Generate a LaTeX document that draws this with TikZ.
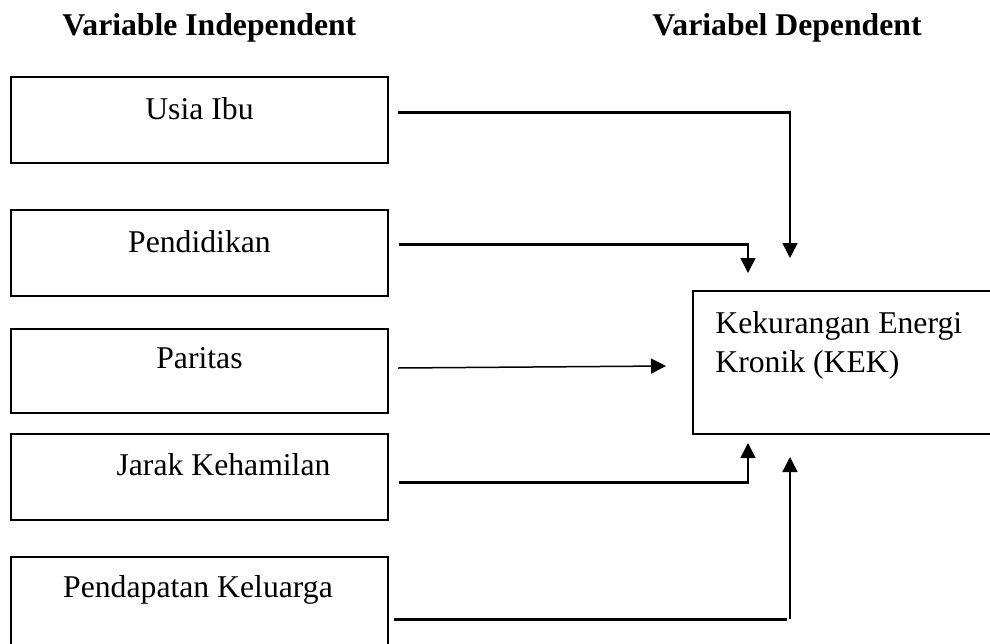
\documentclass[tikz,border=0pt]{standalone}
\usepackage{fontspec}
\setmainfont{Liberation Serif}
\usetikzlibrary{arrows.meta}
\begin{document}
\begin{tikzpicture}[x=0.5pt,y=-0.5pt,
  varbox/.style={draw,line width=1pt,rectangle,inner sep=0pt,outer sep=0pt,minimum width=188.5pt},
  lbl/.style={anchor=base,inner sep=0pt,font=\fontsize{15.85}{19}\selectfont},
  hdr/.style={anchor=base west,inner sep=0pt,font=\fontsize{15.85}{19}\selectfont\bfseries},
  thickln/.style={line width=1.5pt},
  thinarr/.style={line width=0.75pt,-{Triangle[width=7.5pt,length=7.5pt]}},
  thinln/.style={line width=0.75pt}]
\useasboundingbox (0,0) rectangle (990,643);
\clip (0,0) rectangle (990,643);
% headers
\node[hdr] (hIndep) at (62,35) {Variable Independent};
\node[hdr] (hDep) at (652,35) {Variabel Dependent};
% independent boxes
\node[varbox,minimum height=43pt] (b1) at (199.5,120) {};
\node[varbox,minimum height=43pt] (b2) at (199.5,253) {};
\node[varbox,minimum height=42pt] (b3) at (199.5,371) {};
\node[varbox,minimum height=43pt] (b4) at (199.5,477) {};
\node[varbox,minimum height=50pt] (b5) at (199.5,607) {};
\node[lbl] (t1) at (199.5,119) {Usia Ibu};
\node[lbl] (t2) at (199.5,252) {Pendidikan};
\node[lbl] (t3) at (199.5,368) {Paritas};
\node[lbl] (t4) at (223.5,475) {Jarak Kehamilan};
\node[lbl] (t5) at (198,597) {Pendapatan Keluarga};
% dependent box
\node[draw,line width=1pt,rectangle,inner sep=0pt,outer sep=0pt,minimum width=200pt,minimum height=71.5pt] (kek) at (893,362.5) {};
\node[lbl,anchor=base west] (tk1) at (715,333) {Kekurangan Energi};
\node[lbl,anchor=base west] (tk2) at (715,372) {Kronik (KEK)};
% connector points
\coordinate (s1) at (398,112); \coordinate (c1) at (790,112); \coordinate (e1) at (790,258);
\coordinate (s2) at (399,244); \coordinate (c2) at (748,244); \coordinate (e2) at (748,273);
\coordinate (s3) at (398,368); \coordinate (e3) at (666,366);
\coordinate (s4) at (399,482); \coordinate (c4) at (748,482); \coordinate (e4) at (748,443);
\coordinate (s5) at (394,619); \coordinate (c5) at (787,619); \coordinate (c5b) at (790,619); \coordinate (e5) at (790,457);
% connectors
\draw[thickln] (s1) -- (c1);
\draw[thinarr] ([yshift=0.75pt]c1) -- (e1);
\draw[thickln] (s2) -- (c2);
\draw[thinarr] ([yshift=0.75pt]c2) -- (e2);
\draw[thinarr] (s3) -- (e3);
\draw[thickln] (s4) -- (c4);
\draw[thinarr] ([yshift=-0.75pt]c4) -- (e4);
\draw[thickln] (s5) -- (c5);
\draw[thinarr] (c5b) -- (e5);
\end{tikzpicture}
\end{document}
